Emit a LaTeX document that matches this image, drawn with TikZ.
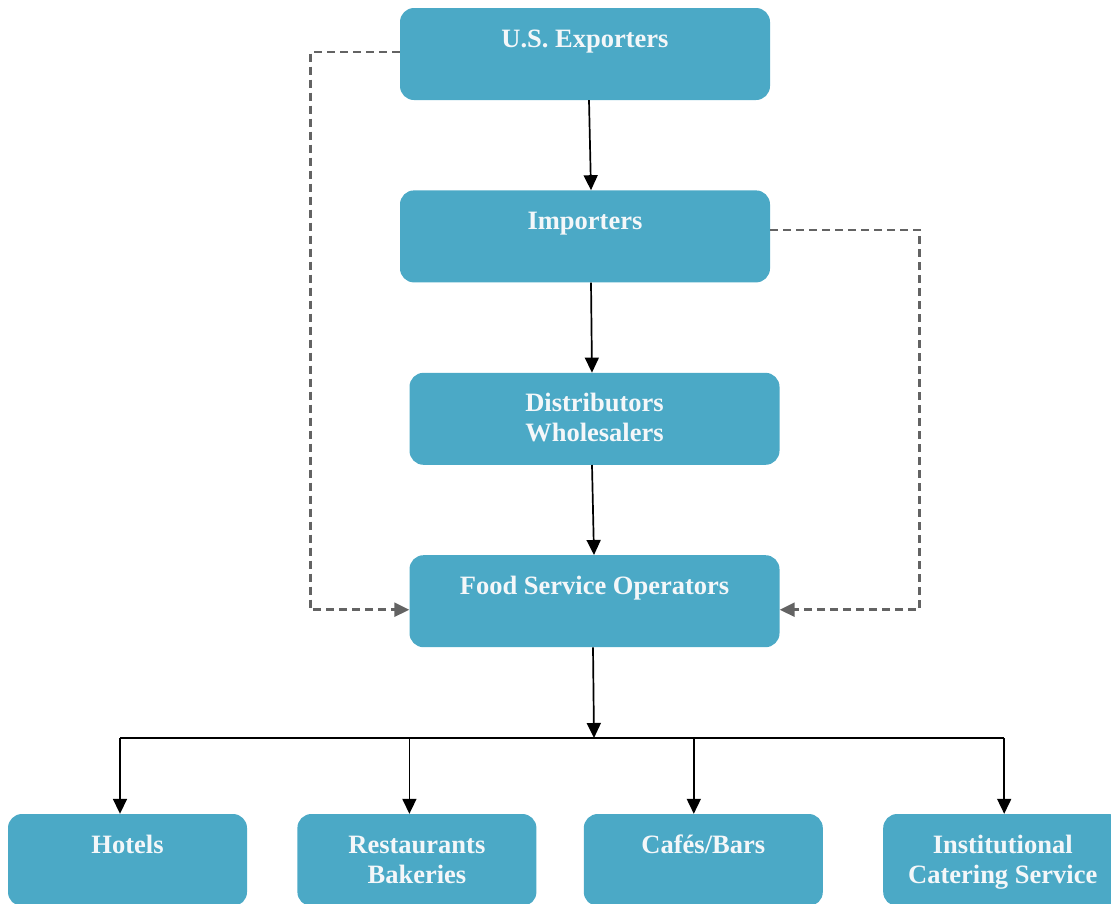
\documentclass[tikz,border=0pt]{standalone}
\usepackage{fontspec}
\setmainfont{Liberation Serif}
\usepackage{xcolor}
\usetikzlibrary{positioning,arrows.meta}
\definecolor{boxblue}{HTML}{4BA9C6}
\definecolor{dashgray}{HTML}{636363}
\definecolor{boxtext}{HTML}{F4F7F9}

\begin{document}
\begin{tikzpicture}[
    x=1pt, y=-1pt,
    box/.style={fill=boxblue, rounded corners=14pt, minimum width=370pt, minimum height=92pt, inner sep=0pt,
      align=center, text=boxtext, font=\fontsize{26.5}{30}\selectfont\bfseries, text height=18pt, text depth=32pt},
    twoline/.style={text height=48pt, text depth=2pt},
    outlet/.style={box, minimum width=239pt},
    arr/.style={-{Triangle[length=15pt,width=14pt]}, line width=1.7pt},
    busline/.style={line width=1.7pt},
    dasharr/.style={-{Triangle[length=15pt,width=14pt]}, dashgray, line width=2.5pt, dash pattern=on 8pt off 5pt}
  ]
    \useasboundingbox (0,0) rectangle (1111,903);
    \clip (0,0) rectangle (1111,903);
    % supply chain
    \node[box] (exp) at (585,54) {U.S. Exporters};
    \node[box, below=90pt of exp] (imp) {Importers};
    \node[box, twoline, below=90pt of imp, xshift=9.5pt] (dist) {Distributors\\Wholesalers};
    \node[box, below=90pt of dist] (fso) {Food Service Operators};
    % outlets
    \node[outlet] (hotels) at (127.5,860) {Hotels};
    \node[outlet, twoline, right=50pt of hotels] (rest) {Restaurants\\Bakeries};
    \node[outlet, right=47pt of rest] (cafes) {Caf\'es/Bars};
    \node[outlet, twoline, right=60pt of cafes] (inst) {Institutional\\Catering Service};
    \draw[arr] ([xshift=4pt]exp.south) -- ([xshift=6pt]imp.north);
    \draw[arr] ([xshift=6pt]imp.south) -- ([xshift=-2.5pt]dist.north);
    \draw[arr] ([xshift=-2.5pt]dist.south) -- ([xshift=-0.5pt]fso.north);
    \coordinate (bus) at (594,738);
    \draw[arr] ([xshift=-1.5pt]fso.south) -- (bus);
    \foreach \n/\s [count=\i] in {hotels/-7.5, rest/-7.5, cafes/-9.5, inst/1.5}
      \coordinate (drop\i) at ([xshift=\s pt]\n.north);
    \draw[busline] (drop1 |- bus) -- (drop4 |- bus);
    \foreach \i in {1,...,4}
      \draw[arr] (drop\i |- bus) -- (drop\i);
    % direct channels
    \draw[dasharr] ([yshift=2pt]exp.west) -| ([xshift=-99pt,yshift=-8.5pt]fso.west) -- ([yshift=-8.5pt]fso.west);
    \draw[dasharr] ([yshift=6.5pt]imp.east) -| ([xshift=140pt,yshift=-8.5pt]fso.east) -- ([yshift=-8.5pt]fso.east);
  \end{tikzpicture}
\end{document}
